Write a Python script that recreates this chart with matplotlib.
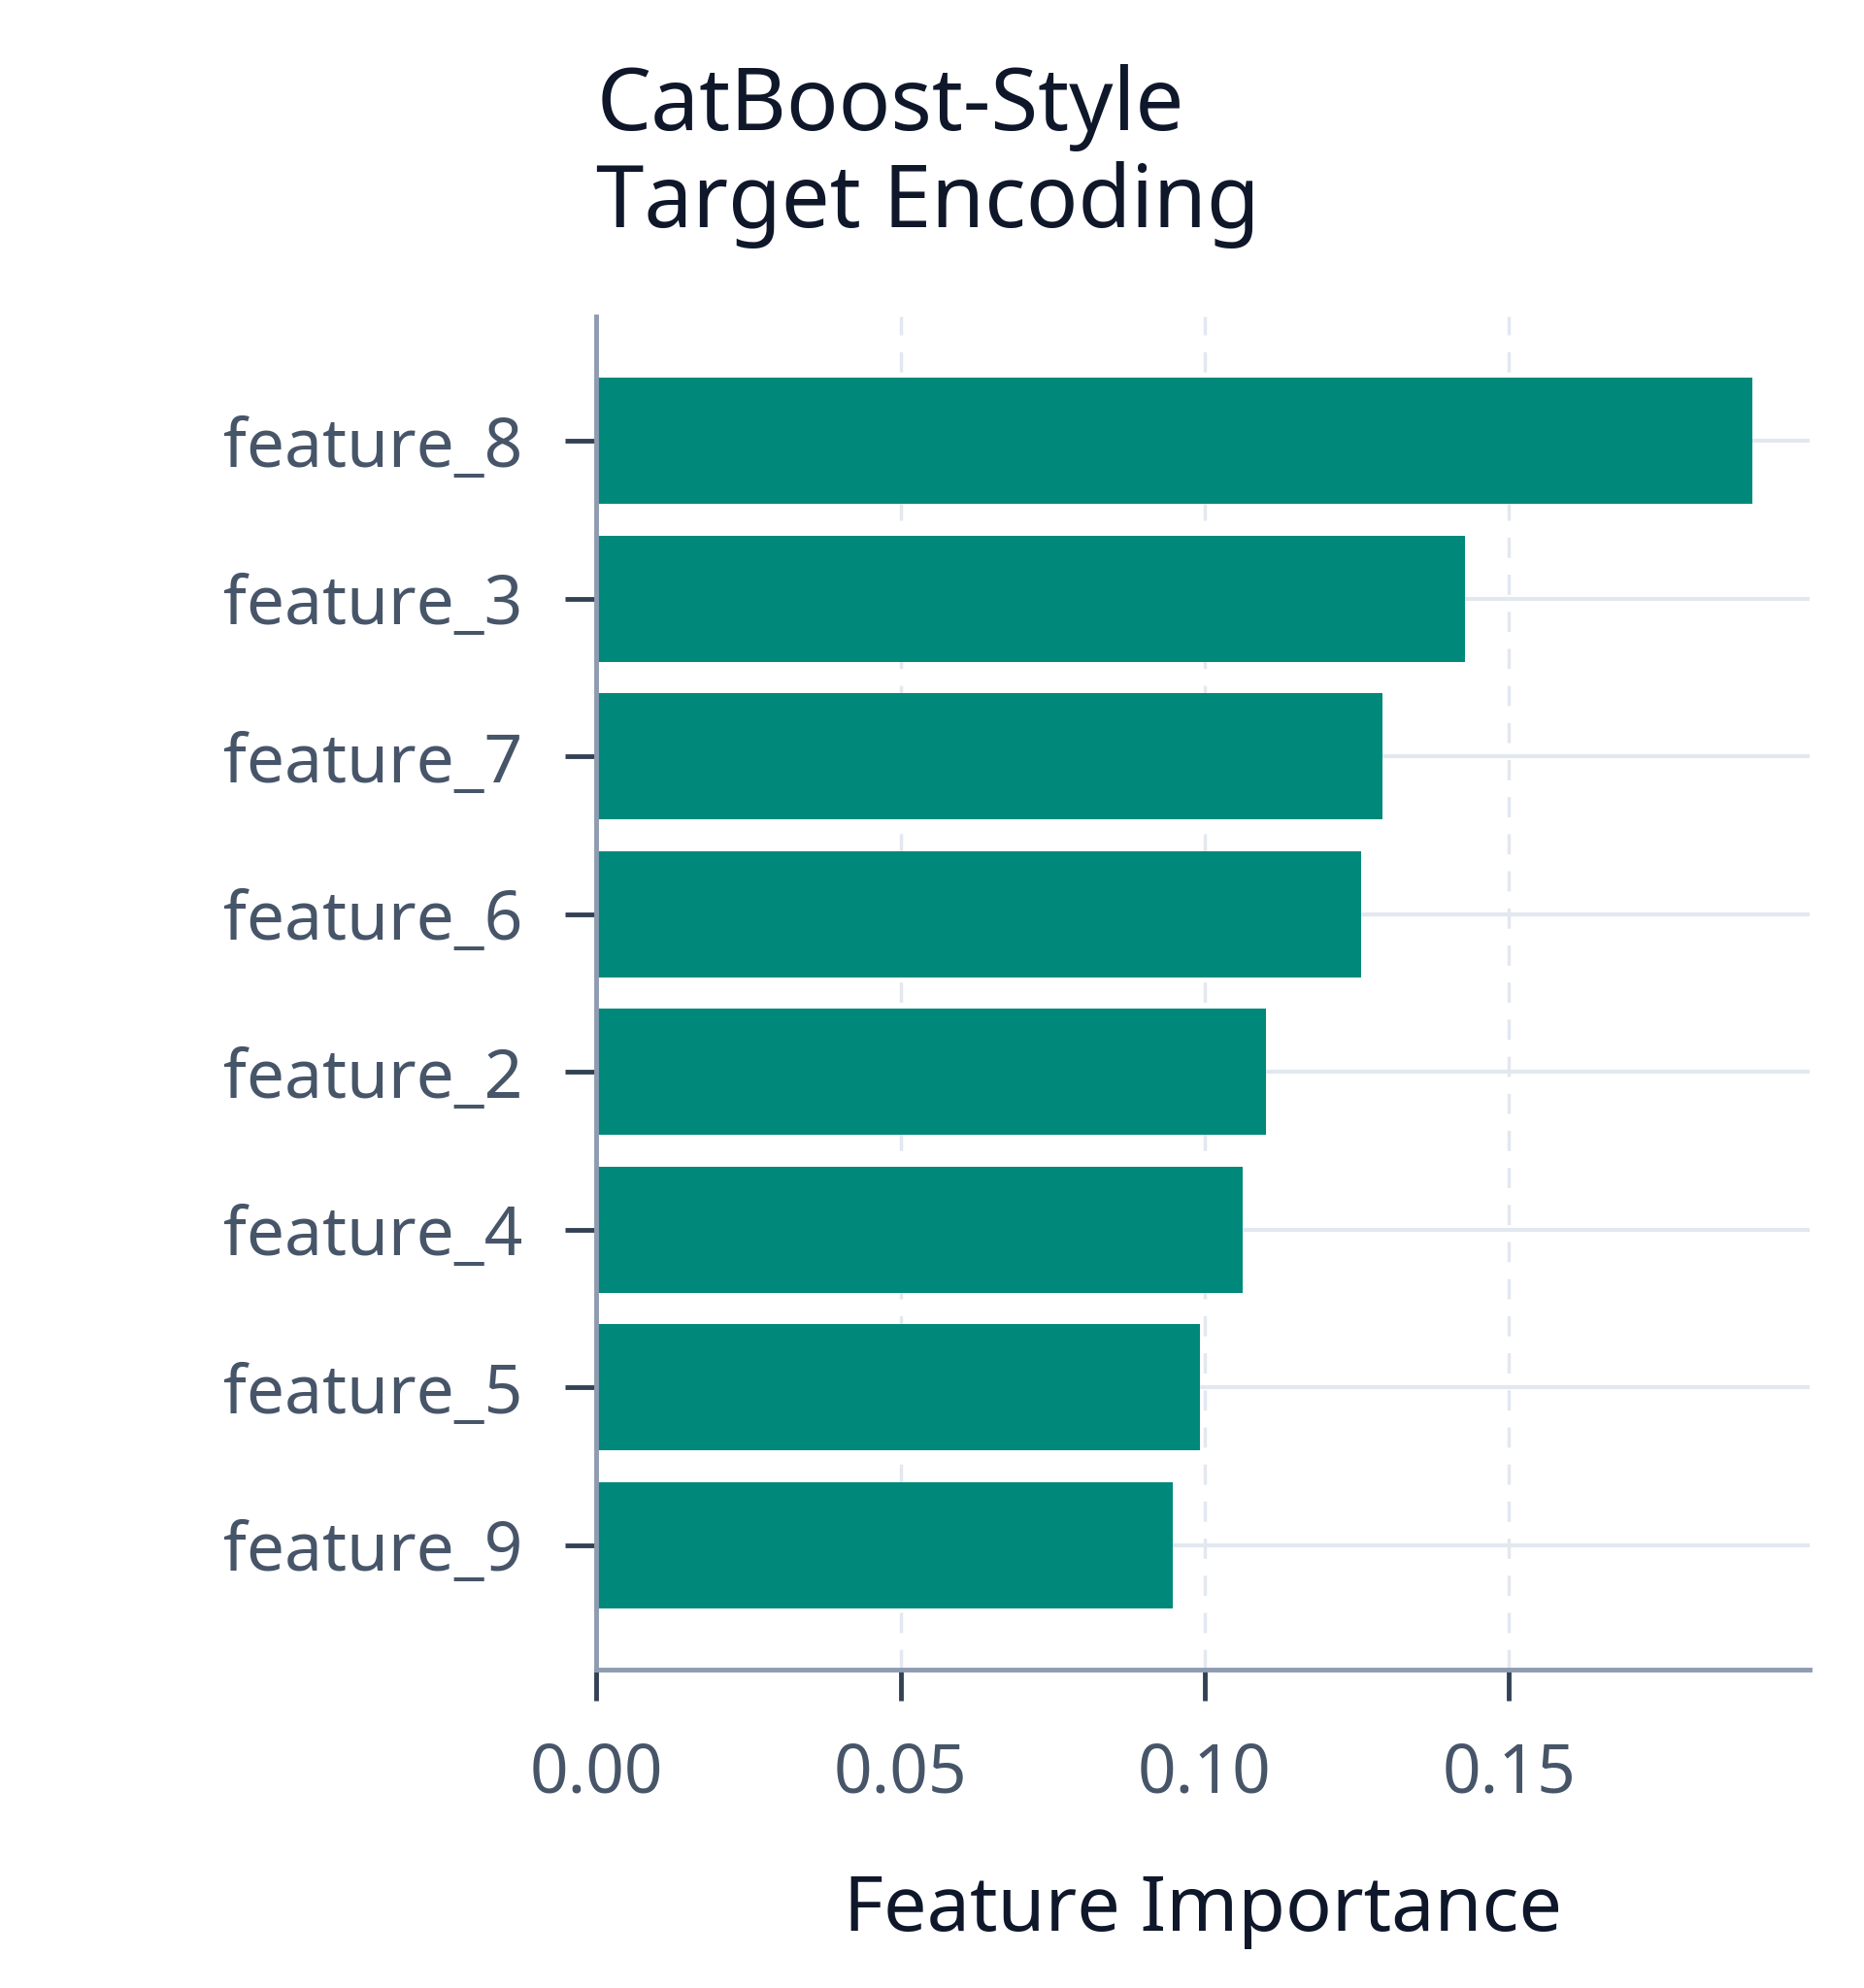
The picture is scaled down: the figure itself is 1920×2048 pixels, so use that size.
import matplotlib
matplotlib.use('Agg')
import matplotlib.pyplot as plt

features = ['feature_8', 'feature_3', 'feature_7', 'feature_6',
            'feature_2', 'feature_4', 'feature_5', 'feature_9']
importance = [0.190, 0.1428, 0.1292, 0.1257, 0.1100, 0.1063, 0.0992, 0.0948]
xticks = [0.00, 0.05, 0.10, 0.15]

plt.rcParams['font.family'] = ['Noto Sans', 'DejaVu Sans']

fig = plt.figure(figsize=(19.2, 20.48), dpi=100)
ax = fig.add_axes([0.320, 0.160, 0.651, 0.681])

ax.barh(range(len(features)), importance, height=0.8, color='#00897b', zorder=3)
ax.set_yticks(range(len(features)))
ax.set_yticklabels(features)
ax.invert_yaxis()
ax.set_xlim(0, max(importance) * 1.05)
ax.set_xticks(xticks)
ax.set_xticklabels(['%.2f' % t for t in xticks])

# grid: solid horizontal, dashed vertical
ax.grid(axis='y', color='#e2e8f0', linewidth=3, linestyle='-', zorder=0)
ax.grid(axis='x', color='#e2e8f0', linewidth=2.5, linestyle=(0, (6, 5)), zorder=0)
ax.set_axisbelow(True)

for s in ['top', 'right']:
    ax.spines[s].set_visible(False)
for s in ['left', 'bottom']:
    ax.spines[s].set_color('#8e9bb0')
    ax.spines[s].set_linewidth(3.5)
    ax.spines[s].set_zorder(4)

ax.tick_params(axis='both', colors='#334155', labelcolor='#475569',
               labelsize=50, length=23, width=3.5)
ax.tick_params(axis='y', pad=32)
ax.tick_params(axis='x', pad=30)

ax.set_xlabel('Feature Importance', fontsize=57, color='#0f172a', labelpad=47)
ax.set_title('CatBoost-Style\nTarget Encoding', loc='left', fontsize=64,
             color='#0f172a', pad=66, linespacing=1.15)

fig.savefig('out.png', dpi=100, facecolor='white')
